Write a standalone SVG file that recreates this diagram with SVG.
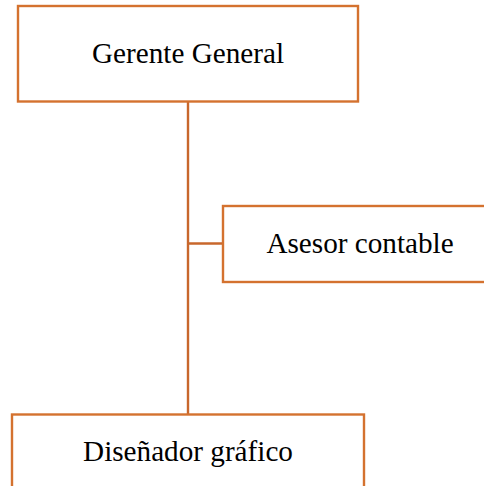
<svg xmlns="http://www.w3.org/2000/svg" width="484" height="486" viewBox="0 0 484 486">
<style>
.box{fill:#fff;stroke:#D4722F;stroke-width:2.4}
.lbl{font-family:"Liberation Serif","Times New Roman",serif;font-size:29.2px;fill:#000;text-anchor:middle}
.conn{stroke:#C8672C;stroke-width:2.4;fill:none}
</style>
<rect width="484" height="486" fill="#fff"/>
<g id="connectors">
<line class="conn" x1="188" y1="101" x2="188" y2="414"/>
<line class="conn" x1="188" y1="243.5" x2="223" y2="243.5"/>
</g>
<g id="gerente">
<rect class="box" x="18" y="6" width="340" height="95.5"/>
<text class="lbl" x="188" y="63">Gerente General</text>
</g>
<g id="asesor">
<rect class="box" x="223" y="206" width="270" height="76"/>
<text class="lbl" x="360" y="253">Asesor contable</text>
</g>
<g id="disenador">
<rect class="box" x="12" y="414.5" width="352" height="90"/>
<text class="lbl" x="188" y="461">Diseñador gráfico</text>
</g>
</svg>
